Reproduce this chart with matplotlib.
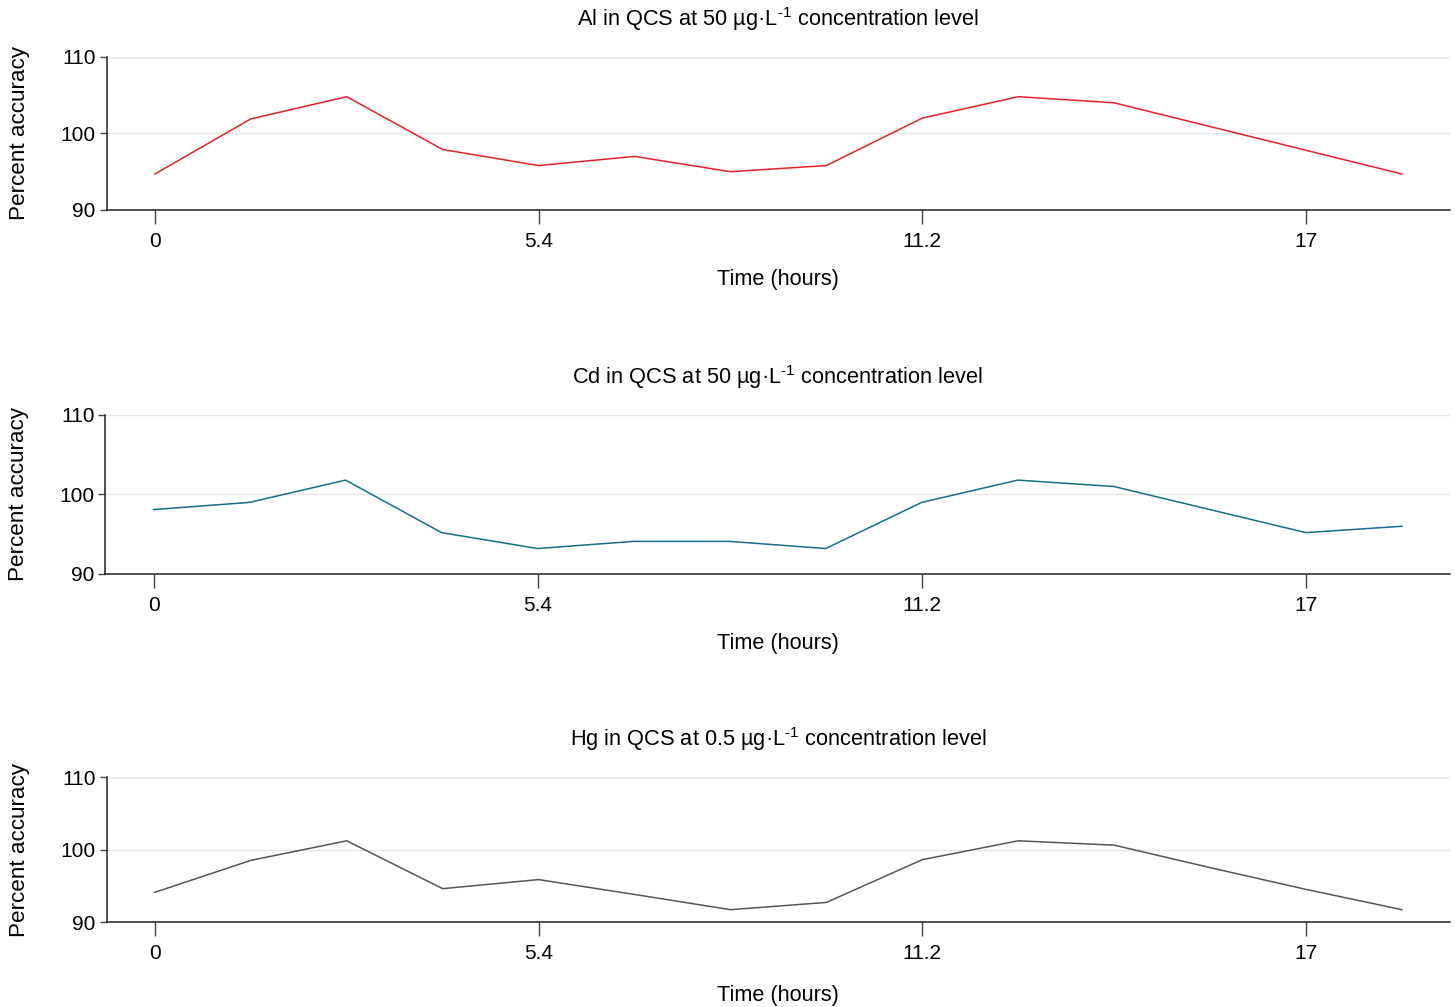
import matplotlib.pyplot as plt
import numpy as np

plt.rcParams['font.family'] = ['Liberation Sans', 'DejaVu Sans']
plt.rcParams['mathtext.fontset'] = 'custom'
plt.rcParams['mathtext.rm'] = 'Liberation Sans'

# sample index (equally spaced runs), labelled ticks every 4th run
tick_pos = [0, 4, 8, 12]
tick_labels = ['0', '5.4', '11.2', '17']

al_vals = [94.7, 101.9, 104.8, 97.9, 95.8, 97.0, 95.0, 95.8, 102.0, 104.8, 104.0, 100.9, 97.8, 94.7]
cd_vals = [98.1, 99.0, 101.8, 95.2, 93.2, 94.1, 94.1, 93.2, 99.0, 101.8, 101.0, 98.1, 95.2, 96.0]
hg_vals = [94.1, 98.5, 101.2, 94.6, 95.85, 93.8, 91.7, 92.7, 98.6, 101.2, 100.6, 97.5, 94.5, 91.7]

titles = [r'Al in QCS at 50 µg·L$^{\mathregular{‑1}}$ concentration level',
          r'Cd in QCS at 50 µg·L$^{\mathregular{‑1}}$ concentration level',
          r'Hg in QCS at 0.5 µg·L$^{\mathregular{‑1}}$ concentration level']
colors = ['#e8202a', '#136f89', '#555555']
series = [al_vals, cd_vals, hg_vals]
xlabel_pads = [13, 13, 16]

fig = plt.figure(figsize=(14.55, 10.07), dpi=100)
# [left, bottom, width, height]
boxes = [[0.0735, 0.7915, 0.923, 0.152],
         [0.0725, 0.430, 0.924, 0.158],
         [0.0735, 0.0844, 0.923, 0.144]]

for box, vals, col, title, xpad in zip(boxes, series, colors, titles, xlabel_pads):
    ax = fig.add_axes(box)
    x = np.arange(len(vals))
    ax.plot(x, vals, color=col, lw=1.1)
    ax.set_xlim(-0.5, 13.5)
    ax.set_ylim(90, 110)
    ax.set_yticks([90, 100, 110])
    ax.set_xticks(tick_pos)
    ax.set_xticklabels(tick_labels)
    ax.grid(axis='y', color='#e6e6e6', lw=1)
    ax.set_axisbelow(True)
    for s in ['top', 'right']:
        ax.spines[s].set_visible(False)
    for s in ['left', 'bottom']:
        ax.spines[s].set_color('#222222')
        ax.spines[s].set_linewidth(1.1)
    ax.tick_params(axis='x', length=10, width=1, color='#444444', labelsize=15, pad=6)
    ax.tick_params(axis='y', length=5, width=1, color='#444444', labelsize=15, pad=3)
    ax.set_title(title, fontsize=15.7, pad=22)
    ax.set_xlabel('Time (hours)', fontsize=15.6, labelpad=xpad)
    ax.set_ylabel('Percent accuracy', fontsize=16.2, labelpad=22)

plt.savefig('out.png', dpi=100)
